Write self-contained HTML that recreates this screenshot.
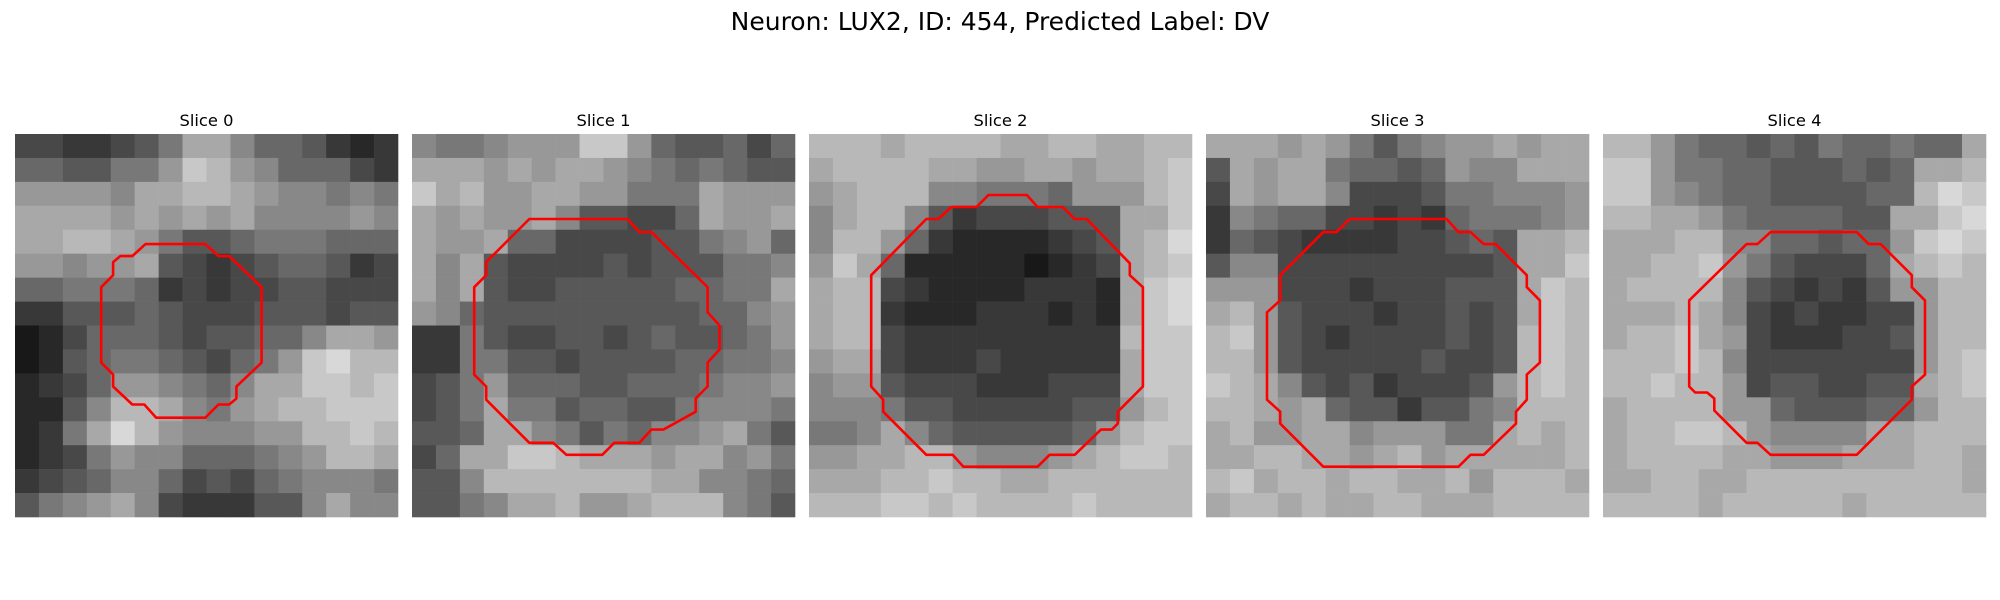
<!DOCTYPE html>
<html><head><meta charset="utf-8"><style>
html,body{margin:0;padding:0;background:#fff;width:2000px;height:600px;overflow:hidden;font-family:"DejaVu Sans","Liberation Sans",sans-serif;}
</style></head><body>
<svg id="fig" width="2000" height="600" xmlns="http://www.w3.org/2000/svg">
<rect width="2000" height="600" fill="#fff"/>
<text x="1000" y="30" font-size="25" text-anchor="middle" font-family="DejaVu Sans, Liberation Sans, sans-serif">Neuron: LUX2, ID: 454, Predicted Label: DV</text>
</svg>
<script>
const sliceTitles=["Slice 0","Slice 1","Slice 2","Slice 3","Slice 4"];
const img0=["4433457aa8665323","6655779cb9866643","99998aabba988787","aaaa9a9a9a888898","aabba97556777666","99899a5434566534","6677763434455444","3355565444555455","1246665455668aa9","125677654679cdbb","2346998768aaccbc","2258bba879abbccc","237adb988899bbcb","2347988666789bba","3456886454678887","5789a84333558a88"];
const img1=["8778999cc9655646","aaa9a9aa98767655","cab99aa99777a999","a9a99a855446a99a","a99a664444557896","a8a5444454555778","a8a544555556677a","9865555555556689","3375445545655679","3377554555566778","4579666556667889","457a775665578887","556aa87576889a75","46aaccbaaa9aa897","558bbbbbbbaa8876","5578aab99abbb875"];
const img2=["bbbabbbbaabbaabb","abbbbaa99aa9aabc","9abbb887776999bc","8abb853444555aac","8bb9632222345abd","9ca6222221234abc","abb4322223332acd","abb3222333232acd","abb4333333333bcc","9aa4333433333acc","8995444333444acc","88875544444559bc","778a865555569bcc","99aabb98889abccb","aaabbcbbaabbbbbb","bbbccbcbbbbcbbbb"];
const img3=["aaa9a9757899a9aa","5a9aa76656988aaa","4a9aa84445778889","3876644343677789","3654333344565aab","5884444444445aac","9994443444555acb","ab95444344545acb","bc95434444545bcb","bb95444445445bcb","cba8545344459bcb","bba9a65535578bbb","ab99aa899977abab","aabbaa9ab9aaaaab","bcabbabbaab9bbba","abbabaabbaaabbbb"];
const img4=["bb9766565766766a","cc97766555656aab","cc98766555566bdc","bbaa97666655aacd","aaabb88665669cdc","aabbc9754446abcb","abbbb854343599bb","aaaba843433449bb","abbca943334459bb","bbbcb844444449bc","bbcbb94554455abc","abbbb996555669bb","abbccb98888aabbb","abbbbaa999aaabba","aabbaabbbbbbbbba","bbbbabbbbbabbbbb"];
const contour0=[[10.9,9.2],[15.9,9.2],[17,10.2],[17.9,10.2],[20.6,12.8],[20.6,19.1],[18.5,21.1],[18.5,22.1],[17.9,22.6],[17,22.6],[15.9,23.7],[11.8,23.7],[10.8,22.6],[9.8,22.6],[8.2,21.1],[8.2,20.1],[7.2,19.1],[7.2,12.8],[8.2,11.8],[8.2,10.7],[8.8,10.2],[9.8,10.2]];
const contour1=[[9.8,7.1],[18,7.1],[19,8.2],[20,8.2],[24.7,12.8],[24.7,14.9],[25.7,16],[25.7,18],[24.7,19.1],[24.7,21.1],[23.7,22.1],[23.7,23.2],[21,24.7],[20,24.7],[19,25.8],[16.9,25.8],[15.9,26.8],[12.9,26.8],[11.8,25.8],[9.8,25.8],[6.2,22.2],[6.2,21.1],[5.2,20.1],[5.2,12.8],[6.2,11.8],[6.2,10.7]];
const contour2=[[15,5.1],[18.2,5.1],[19.1,6.1],[21.2,6.1],[22.2,7.1],[23.2,7.1],[26.8,10.8],[26.8,11.8],[27.9,12.8],[27.9,21.1],[25.8,23.2],[25.8,24.2],[25.3,24.7],[24.4,24.7],[22.2,26.8],[20.1,26.8],[19.1,27.8],[12.9,27.8],[12,26.8],[9.8,26.8],[6.2,23.2],[6.2,22.2],[5.2,21.1],[5.2,11.8],[9.8,7.1],[10.8,7.1],[11.9,6.1],[14,6.1]];
const contour3=[[12,7.1],[20.1,7.1],[21.1,8.2],[22.1,8.2],[23.2,9.2],[24.2,9.2],[26.8,11.8],[26.8,12.8],[27.9,13.9],[27.9,19.1],[26.8,20.1],[26.8,22.2],[25.9,23.2],[25.9,24.2],[23.2,26.8],[22.1,26.8],[21.1,27.8],[9.8,27.8],[6.2,24.2],[6.2,23.2],[5.1,22.2],[5.1,14.9],[6.2,13.9],[6.2,11.8],[9.8,8.2],[10.9,8.2]];
const contour4=[[14,8.2],[21.2,8.2],[22.2,9.2],[23.2,9.2],[25.8,11.8],[25.8,12.8],[26.9,13.9],[26.9,20.1],[25.8,21.1],[25.8,22.2],[21.2,26.8],[14,26.8],[12.9,25.8],[12,25.8],[9.3,23.1],[9.3,22.1],[8.7,21.6],[7.7,21.6],[7.2,21.1],[7.2,13.9],[12,9.2],[12.9,9.2]];

const images=[img0,img1,img2,img3,img4];
const contours=[contour0,contour1,contour2,contour3,contour4];
const NS="http://www.w3.org/2000/svg";
const svg=document.getElementById('fig');
const PX0=15,STEP=397,PY=134,PW=383,GRID=32;
function panelX(i){return PX0+STEP*i;}
function sx(i,v){return panelX(i)+v/GRID*PW;}
function sy(v){return PY+v/GRID*PW;}
images.forEach((img,i)=>{
  const g=document.createElementNS(NS,'g');
  
  
  svg.appendChild(g);
  const t=document.createElementNS(NS,'text');
  
  
  t.setAttribute('x',panelX(i)+PW/2);t.setAttribute('y',PY-8);
  t.setAttribute('font-size','16.3');t.setAttribute('text-anchor','middle');
  t.setAttribute('font-family','DejaVu Sans, Liberation Sans, sans-serif');
  t.textContent=sliceTitles[i];g.appendChild(t);
  const n=img.length, cs=GRID/n;
  img.forEach((row,r)=>{
    for(let c=0;c<row.length;c++){
      const v=parseInt(row[c],16);const gv=Math.round(v/15*240+8);
      const rc=document.createElementNS(NS,'rect');
      
      
      const x0=sx(i,c*cs),y0=sy(r*cs);
      rc.setAttribute('x',x0);rc.setAttribute('y',y0);
      rc.setAttribute('width',sx(i,(c+1)*cs)-x0+0.3);rc.setAttribute('height',sy((r+1)*cs)-y0+0.3);
      rc.setAttribute('fill','rgb('+gv+','+gv+','+gv+')');
      g.appendChild(rc);
    }
  });
  const p=document.createElementNS(NS,'polygon');
  
  
  p.setAttribute('points',contours[i].map(q=>sx(i,q[0]).toFixed(1)+','+sy(q[1]).toFixed(1)).join(' '));
  p.setAttribute('fill','none');p.setAttribute('stroke','#ff0000');p.setAttribute('stroke-width','2.6');
  p.setAttribute('stroke-linejoin','round');
  g.appendChild(p);
});
</script>
</body></html>
